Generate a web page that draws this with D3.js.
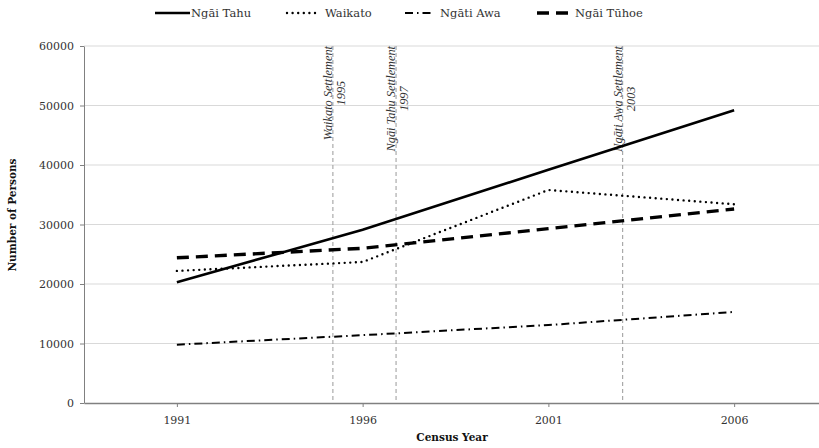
<!DOCTYPE html>
<html><head><meta charset="utf-8">
<script src="https://cdn.jsdelivr.net/npm/d3@7"></script>
<style>body{margin:0;background:#fff}svg{display:block}</style>
</head><body><svg id="c" width="819" height="448"></svg>
<script>
const years = [1991, 1996, 2001, 2006];
const ngaiTahu = [20300, 29100, 39200, 49200];
const waikato = [22200, 23700, 35800, 33400];
const ngatiAwa = [9800, 11400, 13100, 15300];
const ngaiTuhoe = [24400, 26000, 29300, 32600];
const seriesNames = ["Ngāi Tahu", "Waikato", "Ngāti Awa", "Ngāi Tūhoe"];
const settlementYears = [1995.2, 1996.9, 2003.0];
const settlementNames = ["Waikato Settlement", "Ngāi Tahu Settlement", "Ngāti Awa Settlement"];
const settlementLabels = ["1995", "1997", "2003"];
const yTicks = [0, 10000, 20000, 30000, 40000, 50000, 60000];

(function () {
const series = [ngaiTahu, waikato, ngatiAwa, ngaiTuhoe];
const styles = [
  {w: 2.6, dash: null, cap: "butt"},
  {w: 2.4, dash: "0,5.6", cap: "round"},
  {w: 2, dash: "8,4,1.5,4", cap: "butt"},
  {w: 3.4, dash: "12,7", cap: "butt"}
];

const svg = d3.select("#c");
const pLeft = 84, pTop = 46, pBottom = 403;
const x = d3.scaleLinear().domain([1988.5, 2008.5]).range([pLeft, 827]);
const y = d3.scaleLinear().domain([0, 60000]).range([pBottom, pTop]);
const font = "DejaVu Serif";

// gridlines
svg.append("g").selectAll("line").data(yTicks.slice(1)).join("line")
  .attr("x1", pLeft).attr("x2", 819).attr("y1", d => y(d)).attr("y2", d => y(d))
  .attr("stroke", "#d9d9d9").attr("stroke-width", 1);

// y axis
const ya = svg.append("g").attr("transform", `translate(${pLeft},0)`)
  .call(d3.axisLeft(y).tickValues(yTicks).tickFormat(d3.format("d")).tickSize(4).tickSizeOuter(0));
ya.attr("font-family", font);
ya.select(".domain").attr("stroke", "#808080");
ya.selectAll(".tick line").attr("stroke", "#808080");
ya.selectAll("text").style("font-family", font).attr("font-size", 11).attr("fill", "#333").attr("dx", "-3");

// x axis
const xa = svg.append("g").attr("transform", `translate(0,${pBottom})`)
  .call(d3.axisBottom(x).tickValues(years).tickFormat(d3.format("d")).tickSize(4).tickSizeOuter(0));
xa.attr("font-family", font);
xa.select(".domain").attr("stroke", "#808080").attr("stroke-width", 1.3);
xa.selectAll(".tick line").attr("stroke", "#808080");
xa.selectAll("text").style("font-family", font).attr("font-size", 11).attr("fill", "#333").attr("dy", "1.3em");

// settlement lines
const sg = svg.append("g");
settlementYears.forEach((sy, i) => {
  const xv = x(sy);
  sg.append("line").attr("x1", xv).attr("x2", xv).attr("y1", pTop).attr("y2", pBottom)
    .attr("stroke", "#999").attr("stroke-width", 1).attr("stroke-dasharray", "4,3");
  const g = sg.append("g").attr("transform", `translate(${xv},${pTop}) rotate(-90)`);
  const t1 = g.append("text").text(settlementNames[i]).attr("x", 0).attr("y", -1)
    .attr("text-anchor", "end").style("font-family", "Liberation Serif")
    .attr("font-style", "italic").attr("font-size", 12.3).attr("fill", "#333");
  const len = t1.node().getComputedTextLength();
  g.append("text").text(settlementLabels[i]).attr("x", -len / 2).attr("y", 12)
    .attr("text-anchor", "middle").style("font-family", "Liberation Serif")
    .attr("font-style", "italic").attr("font-size", 12.3).attr("fill", "#333");
});

// series lines
const line = d3.line().x((d, i) => x(years[i])).y(d => y(d));
series.forEach((s, i) => {
  const st = styles[i];
  svg.append("path").datum(s).attr("d", line).attr("fill", "none")
    .attr("stroke", "#000").attr("stroke-width", st.w)
    .attr("stroke-dasharray", st.dash).attr("stroke-linecap", st.cap);
});

// legend
const legX = [155, 287, 405, 537];
const legLen = [35, 32, 29, 32];
const lg = svg.append("g");
seriesNames.forEach((n, i) => {
  const st = styles[i];
  lg.append("line").attr("x1", legX[i]).attr("x2", legX[i] + legLen[i]).attr("y1", 13).attr("y2", 13)
    .attr("stroke", "#000").attr("stroke-width", st.w).attr("stroke-dasharray", st.dash)
    .attr("stroke-linecap", st.cap);
  lg.append("text").text(n).attr("x", legX[i] + legLen[i] + (i === 0 ? 1 : 6)).attr("y", 17)
    .style("font-family", font).attr("font-size", 11.5).attr("fill", "#333");
});

// axis titles
svg.append("text").text("Census Year").attr("x", 452).attr("y", 441).attr("text-anchor", "middle")
  .style("font-family", font).attr("font-weight", "bold").attr("font-size", 10.5).attr("fill", "#111");
svg.append("text").text("Number of Persons").attr("transform", "translate(16,215) rotate(-90)")
  .attr("text-anchor", "middle").style("font-family", font).attr("font-weight", "bold")
  .attr("font-size", 10.5).attr("fill", "#111");
})();
</script></body></html>
